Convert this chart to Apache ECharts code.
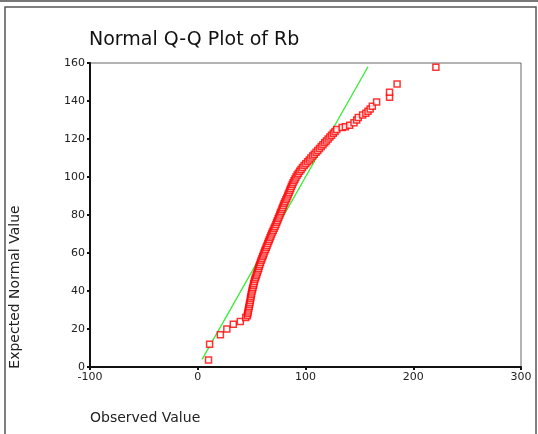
<!DOCTYPE html>
<html><head><meta charset="utf-8">
<script src="https://cdn.jsdelivr.net/npm/echarts@6/dist/echarts.min.js"></script>
<style>html,body{margin:0;padding:0;background:#fff}#c{width:538px;height:434px}</style>
</head><body><div id="c"></div>
<script>
const observed = [10,11,21,27,33,39.5,
  44.5,46,46.3,46.7,47,47.4,47.7,48,48.4,48.8,49,49.3,49.7,50,50.3,50.8,51.2,51.7,52,52.5,53,53.6,54.2,54.8,55.3,56,56.5,57,57.6,58.2,58.8,59.5,60.2,60.8,61.5,62.2,62.9,63.6,64.3,65,65.7,66.4,67.1,67.8,68.5,69.3,70.1,70.9,71.7,72.5,73.2,73.9,74.6,75.3,76,76.7,77.4,78.1,78.8,79.5,80.2,81,81.8,82.6,83.4,84.1,84.8,85.5,86.2,86.9,87.7,88.5,89.4,90.3,91.2,92.3,93.4,94.6,95.9,97.2,98.7,100.3,101.9,103.5,105,106.6,108.2,109.8,111.4,113,114.6,116.2,117.8,119.4,121,122.6,124.2,125.8,127.4,129,
  134,137,141,145,147.5,149,153,156,158,160,162,166,178,178,185,221];
const expected = [3.7,12,17,20,22.5,24,
  26,27,28,29,30,31,32,33,34,35,36,37,38,39,40,41,42,43,44,45,46,47,48,49,50,51,52,53,54,55,56,57,58,59,60,61,62,63,64,65,66,67,68,69,70,71,72,73,74,75,76,77,78,79,80,81,82,83,84,85,86,87,88,89,90,91,92,93,94,95,96,97,98,99,100,101,102,103,104,105,106,107,108,109,110,111,112,113,114,115,116,117,118,119,120,121,122,123,124,125,
  126,126.5,127.3,128.5,130,131.3,132.6,133.6,134.6,135.8,137.3,139.5,142,144.6,149,157.7];
// Reference line end points
const lineX = [4,158];
const lineY = [4,158];

const chart = echarts.init(document.getElementById('c'));
const pts = observed.map((v,i)=>[v,expected[i]]);
const ft = 'DejaVu Sans';
chart.setOption({
  animation:false,
  title:{text:'Normal Q-Q Plot of Rb',left:84,top:26,textStyle:{fontFamily:ft,fontSize:19,fontWeight:'normal',color:'#111'}},
  grid:{left:90,top:63,right:17,bottom:67,show:true,borderColor:'#666',borderWidth:1},
  xAxis:{type:'value',min:-100,max:300,interval:100,
    axisLine:{show:true,onZero:false,lineStyle:{color:'#111',width:2}},
    axisTick:{show:true,length:3,lineStyle:{color:'#111',width:2}},
    axisLabel:{fontFamily:ft,fontSize:11,color:'#222',margin:5},
    splitLine:{show:false},
    name:'Observed Value',nameLocation:'start',
    nameTextStyle:{fontFamily:ft,fontSize:14,color:'#222',align:'left',verticalAlign:'top',padding:[44,0,0,0]},nameGap:0},
  yAxis:{type:'value',min:0,max:160,interval:20,
    axisLine:{show:true,onZero:false,lineStyle:{color:'#111',width:2}},
    axisTick:{show:true,length:3,lineStyle:{color:'#111',width:2}},
    axisLabel:{fontFamily:ft,fontSize:11,color:'#222',margin:5},
    splitLine:{show:false}},
  graphic:[
    {type:'rect',shape:{x:5,y:7,width:531,height:440},style:{fill:'none',stroke:'#555',lineWidth:1.5},silent:true},
    {type:'line',shape:{x1:0,y1:1,x2:538,y2:1},style:{stroke:'#777',lineWidth:2},silent:true},
    {type:'text',x:15,y:287,rotation:Math.PI/2,style:{text:'Expected Normal Value',fontFamily:ft,fontSize:14,fill:'#222',align:'center',verticalAlign:'middle'},silent:true}
  ],
  series:[
    {type:'line',data:lineX.map((v,i)=>[v,lineY[i]]),showSymbol:false,lineStyle:{color:'#33ee33',width:1.3},z:2},
    {type:'scatter',data:pts,symbol:'rect',symbolSize:6,itemStyle:{color:'#fff',borderColor:'#ff0000',borderWidth:1.5},z:3}
  ]
});
</script></body></html>
